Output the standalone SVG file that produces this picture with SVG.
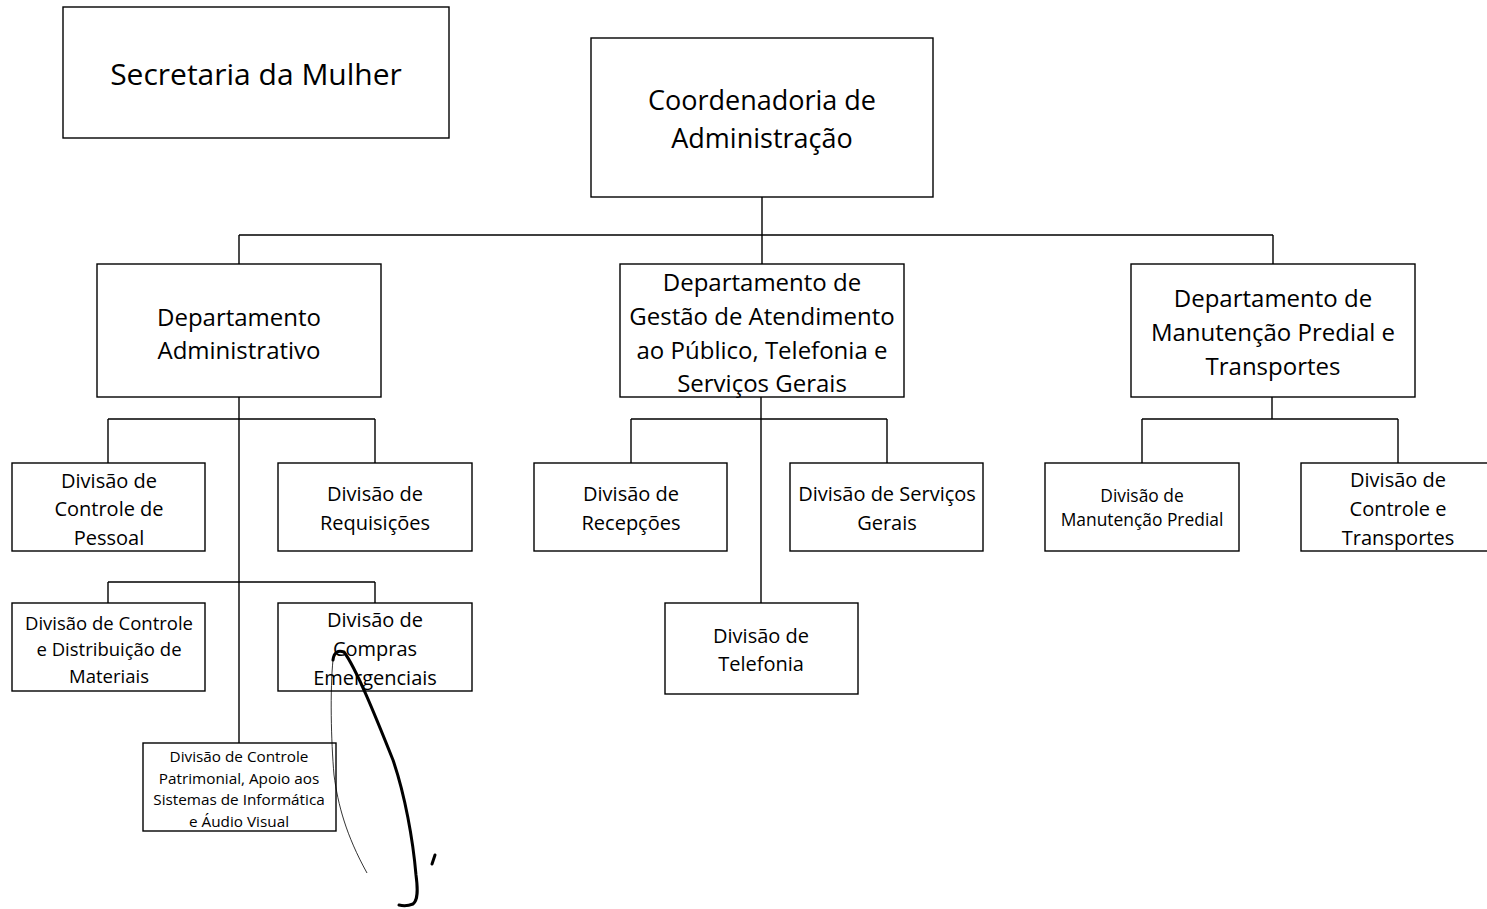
<svg xmlns="http://www.w3.org/2000/svg" width="1487" height="909" viewBox="0 0 1487 909">
<style>
.box{fill:#fff;stroke:#000;stroke-width:1.4}
.ln{fill:none;stroke:#000;stroke-width:1.4}
text{font-family:"Open Sans","Noto Sans",sans-serif;fill:#000;text-anchor:middle;dominant-baseline:central}
.t1{font-size:30px;font-weight:500}
.t2{font-size:27px}
.t3{font-size:24px}
.t4{font-size:20px}
.t5{font-size:18.5px}
.t6{font-size:15.3px}
.t7{font-size:17.4px}
</style>
<rect width="1487" height="909" fill="#fff"/>
<g id="connectors">
<path class="ln" d="M762,197V235M239,235H1273M239,235V264M762,235V264M1273,235V264"/>
<path class="ln" d="M239,397V743M108,419H375M108,419V463M375,419V463M108,582H375M108,582V603M375,582V603"/>
<path class="ln" d="M761,397V603M631,419H887M631,419V463M887,419V463"/>
<path class="ln" d="M1272,397V419M1142,419H1398M1142,419V463M1398,419V463"/>
</g>
<g id="secretaria"><rect class="box" x="63" y="7" width="386" height="131"/><text class="t1" x="256" y="73">Secretaria da Mulher</text></g>
<g id="coordenadoria"><rect class="box" x="591" y="38" width="342" height="159"/><text class="t2" x="762" y="99">Coordenadoria de</text><text class="t2" x="762" y="137">Administração</text></g>
<g id="dep-adm"><rect class="box" x="97" y="264" width="284" height="133"/><text class="t3" x="239" y="316">Departamento</text><text class="t3" x="239" y="349">Administrativo</text></g>
<g id="dep-gestao"><rect class="box" x="620" y="264" width="284" height="133"/><text class="t3" x="762" y="281">Departamento de</text><text class="t3" x="762" y="315">Gestão de Atendimento</text><text class="t3" x="762" y="349">ao Público, Telefonia e</text><text class="t3" x="762" y="382">Serviços Gerais</text></g>
<g id="dep-manut"><rect class="box" x="1131" y="264" width="284" height="133"/><text class="t3" x="1273" y="297">Departamento de</text><text class="t3" x="1273" y="331">Manutenção Predial e</text><text class="t3" x="1273" y="365">Transportes</text></g>
<g id="div-pessoal"><rect class="box" x="12" y="463" width="193" height="88"/><text class="t4" x="109" y="480">Divisão de</text><text class="t4" x="109" y="508">Controle de</text><text class="t4" x="109" y="537">Pessoal</text></g>
<g id="div-requisicoes"><rect class="box" x="278" y="463" width="194" height="88"/><text class="t4" x="375" y="493">Divisão de</text><text class="t4" x="375" y="522">Requisições</text></g>
<g id="div-materiais"><rect class="box" x="12" y="603" width="193" height="88"/><text class="t5" x="109" y="622">Divisão de Controle</text><text class="t5" x="109" y="648">e Distribuição de</text><text class="t5" x="109" y="675">Materiais</text></g>
<g id="div-compras"><rect class="box" x="278" y="603" width="194" height="88"/><text class="t4" x="375" y="619">Divisão de</text><text class="t4" x="375" y="648">Compras</text><text class="t4" x="375" y="677">Emergenciais</text></g>
<g id="div-patrimonial"><rect class="box" x="143" y="743" width="193" height="88"/><text class="t6" x="239" y="756">Divisão de Controle</text><text class="t6" x="239" y="778">Patrimonial, Apoio aos</text><text class="t6" x="239" y="799">Sistemas de Informática</text><text class="t6" x="239" y="821">e Áudio Visual</text></g>
<g id="div-recepcoes"><rect class="box" x="534" y="463" width="193" height="88"/><text class="t4" x="631" y="493">Divisão de</text><text class="t4" x="631" y="522">Recepções</text></g>
<g id="div-servicos"><rect class="box" x="790" y="463" width="193" height="88"/><text class="t4" x="887" y="493">Divisão de Serviços</text><text class="t4" x="887" y="522">Gerais</text></g>
<g id="div-telefonia"><rect class="box" x="665" y="603" width="193" height="91"/><text class="t4" x="761" y="635">Divisão de</text><text class="t4" x="761" y="663">Telefonia</text></g>
<g id="div-predial"><rect class="box" x="1045" y="463" width="194" height="88"/><text class="t7" x="1142" y="495">Divisão de</text><text class="t7" x="1142" y="519">Manutenção Predial</text></g>
<g id="div-transportes"><rect class="box" x="1301" y="463" width="194" height="88"/><text class="t4" x="1398" y="479">Divisão de</text><text class="t4" x="1398" y="508">Controle e</text><text class="t4" x="1398" y="537">Transportes</text></g>
<g id="handwriting">
<path d="M333,660C334,652 338,650 344,652C356,668 375,715 393,760C405,795 413,840 416,875C418,890 418,900 413,904C408,906 403,906 399,905" fill="none" stroke="#000" stroke-width="3" stroke-linecap="round"/>
<path d="M333,660C330,690 331,740 334,775C338,805 346,835 367,873" fill="none" stroke="#000" stroke-width="0.8"/>
<path d="M435,855L432,864" fill="none" stroke="#000" stroke-width="3" stroke-linecap="round"/>
</g>
</svg>
